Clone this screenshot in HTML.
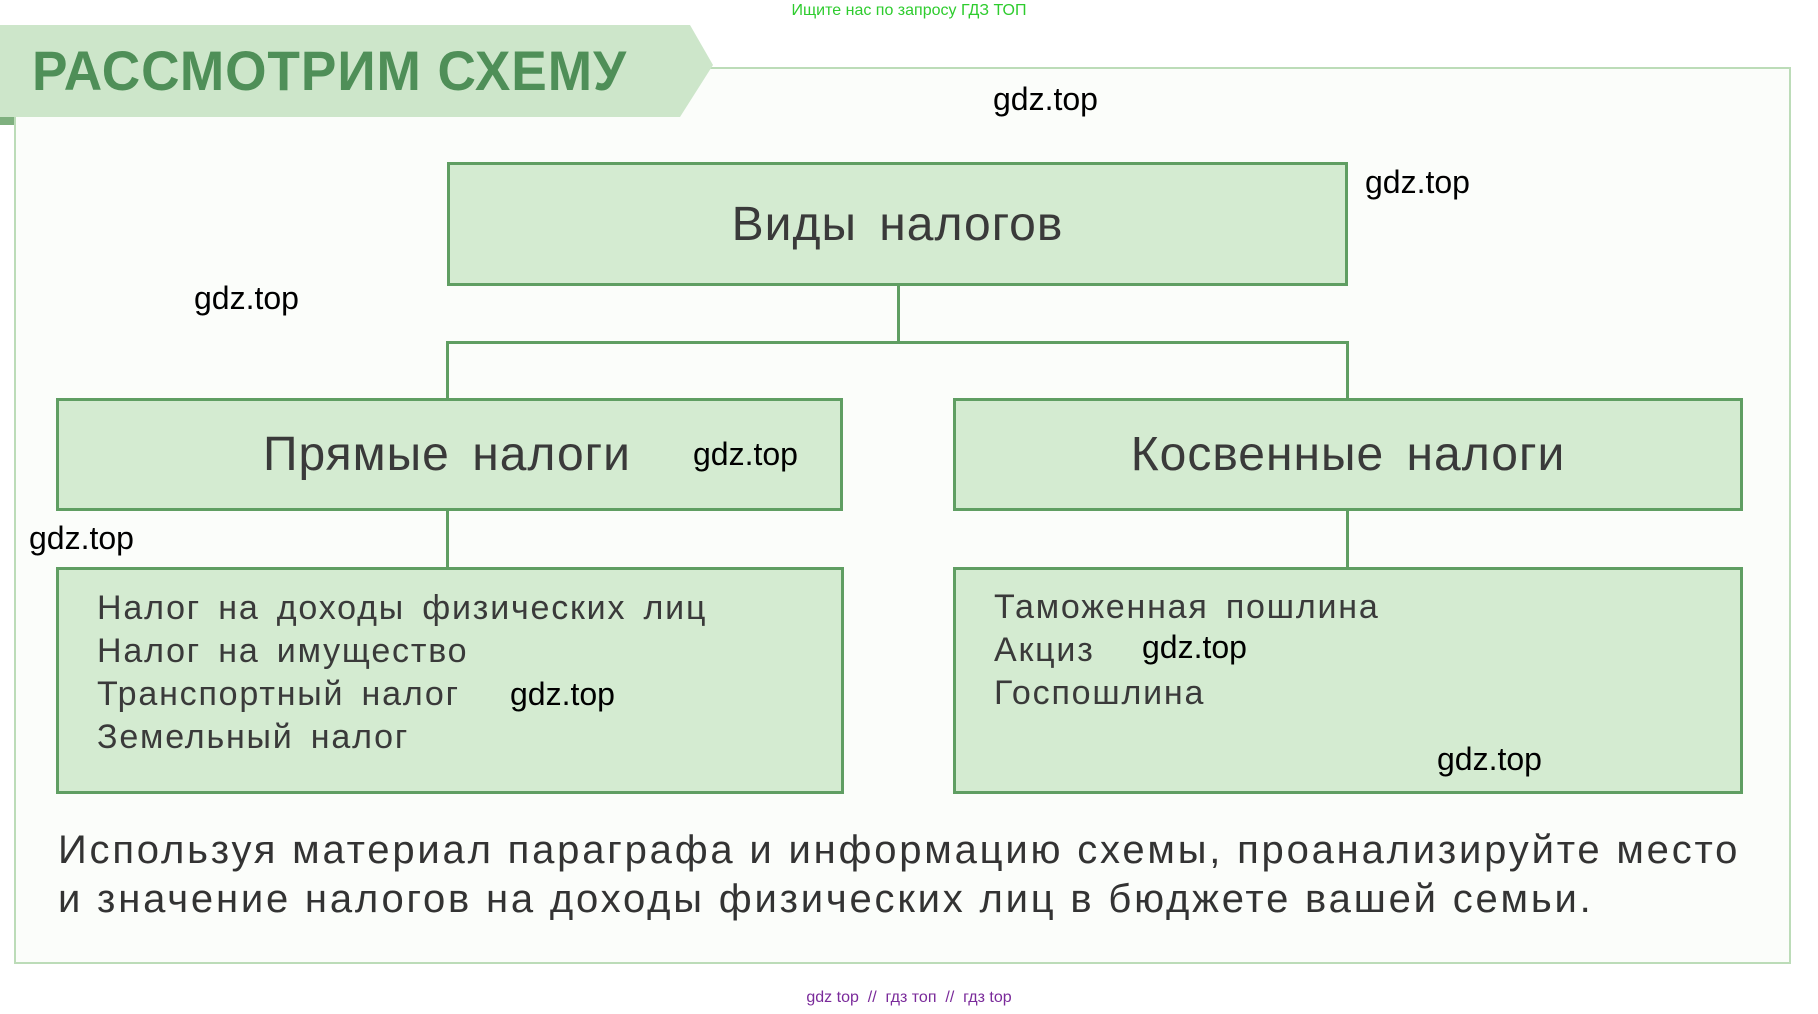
<!DOCTYPE html>
<html><head><meta charset="utf-8"><style>
*{margin:0;padding:0;box-sizing:border-box}
body{width:1818px;height:1014px;background:#fff;position:relative;overflow:hidden;font-family:"Liberation Sans",sans-serif;color:#3a3a3a}
.a{position:absolute}
.box{position:absolute;background:#d4ebd1;border:3px solid #5f9e62}
.ln{position:absolute;background:#5f9e62}
.w{position:absolute;color:#000;font-size:32px;line-height:32px;transform:translateY(-16px)}
.c{position:absolute;display:flex;align-items:center;justify-content:center;font-size:48px;letter-spacing:1px;color:#3a3a3a}
.t{position:absolute;font-size:34px;line-height:43px;color:#3a3a3a;letter-spacing:1.8px;word-spacing:6px}
</style></head><body>
<div class="a" style="left:0;top:0;width:1818px;text-align:center;font-size:16px;color:#2ecc2e;top:2px">Ищите нас по запросу ГДЗ ТОП</div>
<div class="a" style="left:14px;top:67px;width:1777px;height:897px;border:2px solid #bcdcb8;background:#fbfdfa"></div>
<svg class="a" style="left:0;top:25px" width="730" height="100"><polygon points="0,0 690,0 713,40 680,92 0,92" fill="#cde6ca"/><rect x="0" y="92" width="14" height="10" fill="#7fb07f"/></svg>
<div class="a" style="left:32px;top:38px;font-size:56px;font-weight:bold;color:#4f8f58;letter-spacing:1px;transform:scaleX(0.95);transform-origin:left">РАССМОТРИМ СХЕМУ</div>
<div class="box" style="left:447px;top:162px;width:901px;height:124px"></div>
<div class="c" style="left:447px;top:162px;width:901px;height:124px;word-spacing:8px">Виды налогов</div>
<div class="ln" style="left:897px;top:286px;width:3px;height:57px"></div>
<div class="ln" style="left:447px;top:341px;width:902px;height:3px"></div>
<div class="ln" style="left:446px;top:341px;width:3px;height:58px"></div>
<div class="ln" style="left:1346px;top:341px;width:3px;height:58px"></div>
<div class="box" style="left:56px;top:398px;width:787px;height:113px"></div>
<div class="c" style="left:56px;top:398px;width:782px;height:113px;word-spacing:8px">Прямые налоги</div>
<div class="box" style="left:953px;top:398px;width:790px;height:113px"></div>
<div class="c" style="left:953px;top:398px;width:790px;height:113px;word-spacing:8px">Косвенные налоги</div>
<div class="ln" style="left:446px;top:511px;width:3px;height:57px"></div>
<div class="ln" style="left:1346px;top:511px;width:3px;height:57px"></div>
<div class="box" style="left:56px;top:567px;width:788px;height:227px"></div>
<div class="t" style="left:97px;top:587px">Налог на доходы физических лиц<br>Налог на имущество<br>Транспортный налог<br>Земельный налог</div>
<div class="box" style="left:953px;top:567px;width:790px;height:227px"></div>
<div class="t" style="left:994px;top:586px">Таможенная пошлина<br>Акциз<br>Госпошлина</div>
<div class="a" style="left:58px;top:826px;font-size:40px;line-height:49px;color:#333;letter-spacing:2.8px">Используя материал параграфа и информацию схемы, проанализируйте место<br>и значение налогов на доходы физических лиц в бюджете вашей семьи.</div>
<div class="w" style="left:993px;top:99px">gdz.top</div>
<div class="w" style="left:1365px;top:182px">gdz.top</div>
<div class="w" style="left:194px;top:298px">gdz.top</div>
<div class="w" style="left:693px;top:454px">gdz.top</div>
<div class="w" style="left:29px;top:538px">gdz.top</div>
<div class="w" style="left:510px;top:694px">gdz.top</div>
<div class="w" style="left:1142px;top:647px">gdz.top</div>
<div class="w" style="left:1437px;top:759px">gdz.top</div>
<div class="a" style="left:0;top:989px;width:1818px;text-align:center;font-size:16px;color:#7a2a9a">gdz top &nbsp;// &nbsp;гдз топ &nbsp;// &nbsp;гдз top</div>
</body></html>
